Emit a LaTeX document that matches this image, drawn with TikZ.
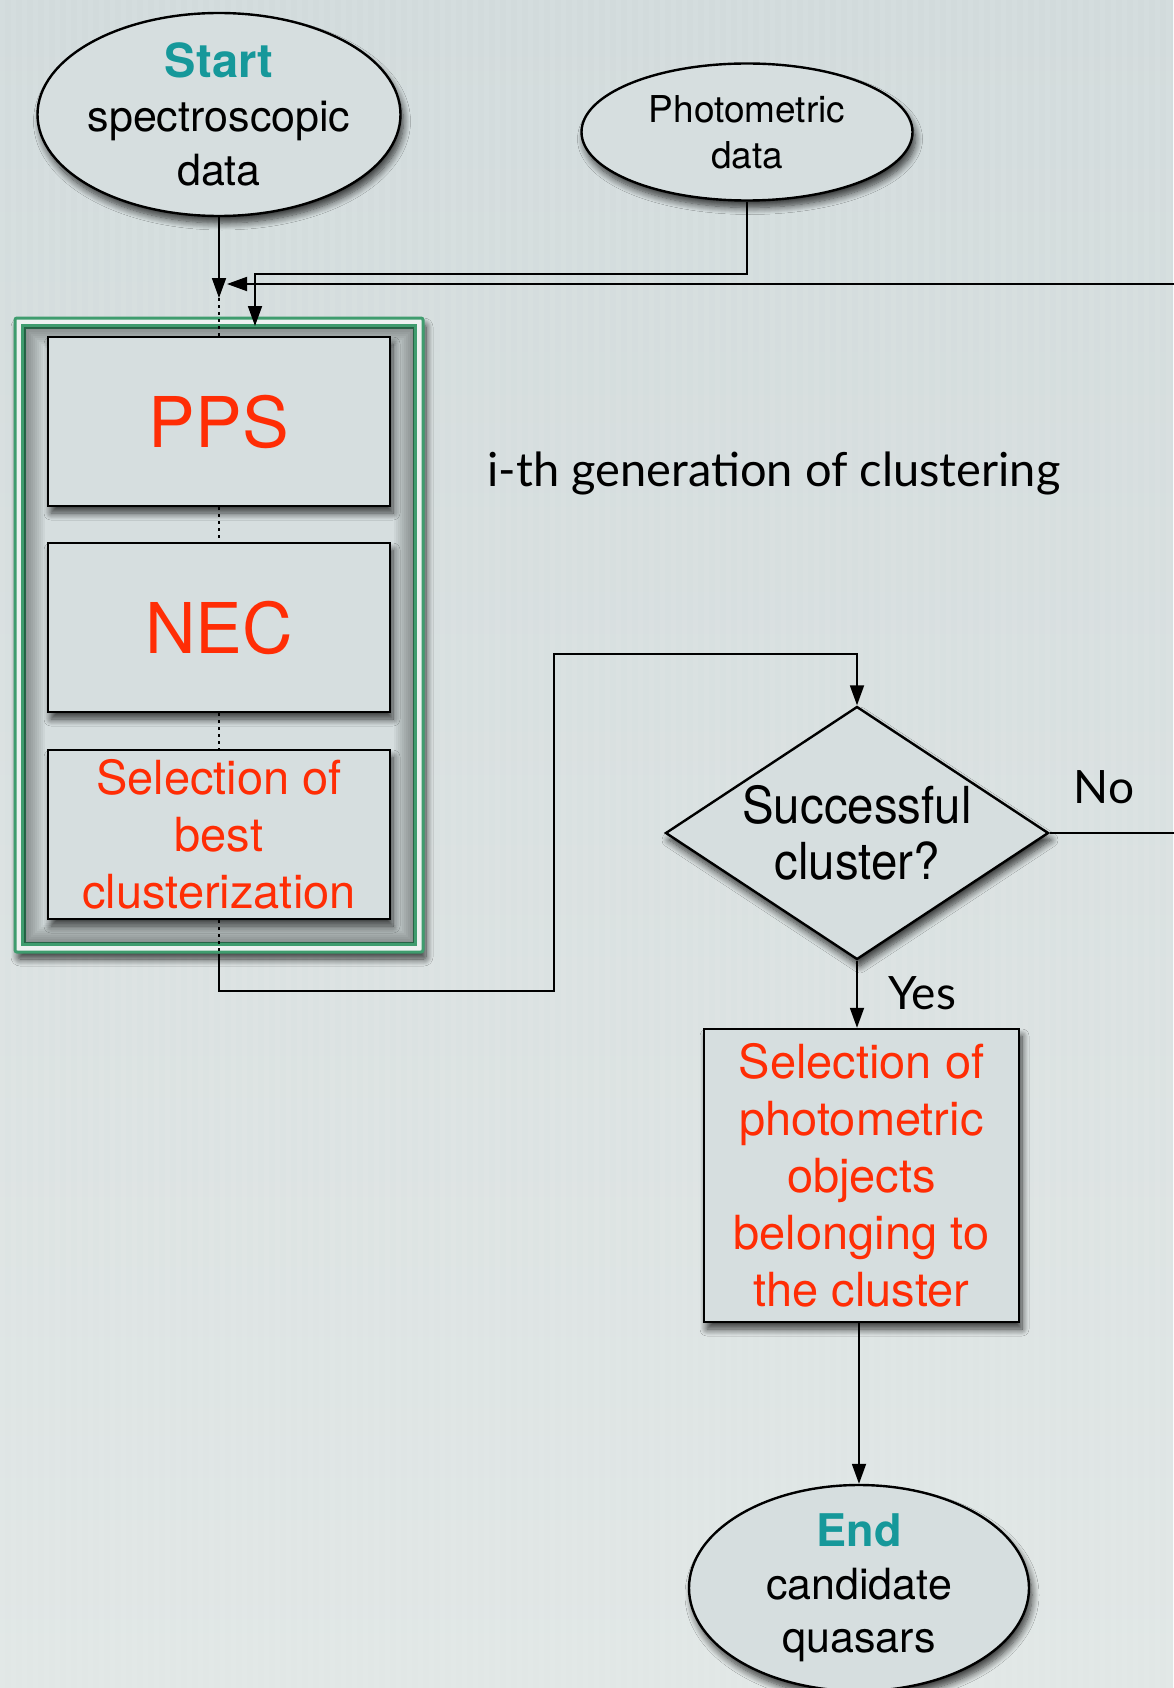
\documentclass[tikz,border=0pt]{standalone}
\usepackage{fontspec}
\setmainfont{TeX Gyre Heros}
\newfontfamily\gillfont{Lato}
\newfontfamily\narrowfont[FakeStretch=0.93]{TeX Gyre Heros}
\usetikzlibrary{shapes.geometric,arrows.meta,shadows.blur}
\definecolor{bgtop}{HTML}{D2DBDC}
\definecolor{bgbot}{HTML}{E1E7E6}
\definecolor{nodefill}{HTML}{D6DEDF}
\definecolor{grn}{HTML}{3F9C6E}
\definecolor{teal}{HTML}{16989A}
\definecolor{redtxt}{HTML}{FF2D05}
\tikzset{
  shad/.style={blur shadow={shadow xshift=3pt, shadow yshift=-7pt,
      shadow blur radius=7pt, shadow blur steps=10, shadow opacity=75}},
  shape box/.style={draw=black, line width=2.4pt, fill=nodefill, inner sep=0pt, shad},
  rbox/.style={shape box, rectangle, text=redtxt, align=center},
  term/.style={shape box, ellipse, inner sep=-24pt, align=center},
  conn/.style={draw=black, line width=1.8pt},
  arr/.style={conn, -{Triangle[length=20pt,width=14pt]}},
  dots/.style={draw=black, line width=1.8pt, dash pattern=on 3pt off 4pt},
}
\begin{document}
\begin{tikzpicture}[x=1pt,y=-1pt]
% page and background
\useasboundingbox (0,0) rectangle (1173,1688);
\shade[top color=bgtop, bottom color=bgbot] (0,0) rectangle (1173,1688);
\foreach \x in {0,11,...,1173} \fill[white,opacity=0.06] (\x,0) rectangle (\x+5,1688);

% group frame around the clustering steps
\node[draw=grn, line width=3pt, fill=bgbot!60!white, minimum width=408pt, minimum height=634pt,
      inner sep=0pt, rounded corners=2pt, shad] (grp) at (219,635) {};
\node[draw=grn, line width=3pt, fill=nodefill, minimum width=390pt, minimum height=616pt,
      inner sep=0pt] (grpin) at (219,635) {};
\begin{scope}
  \clip (grpin.north west) rectangle (grpin.south east);
  \foreach \w in {4,8,...,44}
    \draw[black, opacity=0.038, line width=\w pt] (grpin.north west) rectangle (grpin.south east);
\end{scope}
\draw[grn, line width=3pt] (grpin.north west) rectangle (grpin.south east);

% terminals
\node[term, minimum width=363pt, minimum height=203pt,
      font=\fontsize{43}{54}\selectfont] (start) at (219,114.5)
  {{\fontsize{47}{54}\selectfont\color{teal}\bfseries Start}\\spectroscopic\\data};
\node[term, minimum width=331pt, minimum height=137pt,
      font=\fontsize{37}{46}\selectfont] (photo) at (747,132)
  {Photometric\\data};
\node[term, minimum width=340pt, minimum height=206pt,
      font=\fontsize{43}{53}\selectfont] (endn) at (859,1588)
  {{\fontsize{45}{53}\selectfont\color{teal}\bfseries End}\\candidate\\quasars};

% processing steps
\node[rbox, minimum width=342pt, minimum height=169pt,
      font=\fontsize{70}{80}\selectfont] (pps) at (219,421.5) {PPS};
\node[rbox, minimum width=342pt, minimum height=169pt,
      font=\fontsize{70}{80}\selectfont] (nec) at (219,627.5) {NEC};
\node[rbox, minimum width=342pt, minimum height=169pt,
      font=\fontsize{47}{57}\selectfont] (sel) at (219,834.5)
  {Selection of\\best\\clusterization};
\node[shape box, diamond, aspect=1.514, inner sep=-14pt,
      minimum width=383pt, minimum height=253pt,
      align=center, font=\narrowfont\fontsize{51}{56}\selectfont] (dia) at (857,833)
  {Successful\\cluster?};
\node[rbox, minimum width=315pt, minimum height=293pt,
      font=\fontsize{47}{57}\selectfont] (res) at (861.5,1175.5)
  {Selection of\\photometric\\objects\\belonging to\\the cluster};

% caption of the frame
\node[font=\gillfont\fontsize{47}{54}\selectfont, anchor=center] (cap) at (774,473)
  {i-th generation of clustering};

% junction points of the connectors
\coordinate (j) at (219,298);
\coordinate (ph1) at (747,274);
\coordinate (ph2) at (255,274);
\coordinate (ph3) at (255,326);
\coordinate (no1) at (1195,833);
\coordinate (no2) at (1195,284);
\coordinate (no3) at (227,284);
\coordinate (b1) at (219,991);
\coordinate (b2) at (554,991);
\coordinate (b3) at (554,654);
\coordinate (b4) at (857,654);

% connectors
\draw[arr] (start.south) -- (j);
\draw[dots] (j) -- (pps.north);
\draw[dots] (pps.south) -- (nec.north);
\draw[dots] (nec.south) -- (sel.north);
\draw[dots] (sel.south) -- (grp.south);
\draw[arr] (photo.south) -- (ph1) -- (ph2) -- (ph3);
\draw[arr] (dia.east) -- (no1) -- (no2) -- (no3);
\draw[arr] (grp.south) -- (b1) -- (b2) -- (b3) -- (b4) -- (dia.north);
\draw[arr] (dia.south) -- (dia.south |- res.north);
\draw[arr] (endn.north |- res.south) -- (endn.north);

% branch labels
\node[font=\gillfont\fontsize{46}{52}\selectfont] (nolab) at (1104,787) {No};
\node[font=\gillfont\fontsize{46}{52}\selectfont] (yeslab) at (922,993) {Yes};
\end{tikzpicture}
\end{document}
